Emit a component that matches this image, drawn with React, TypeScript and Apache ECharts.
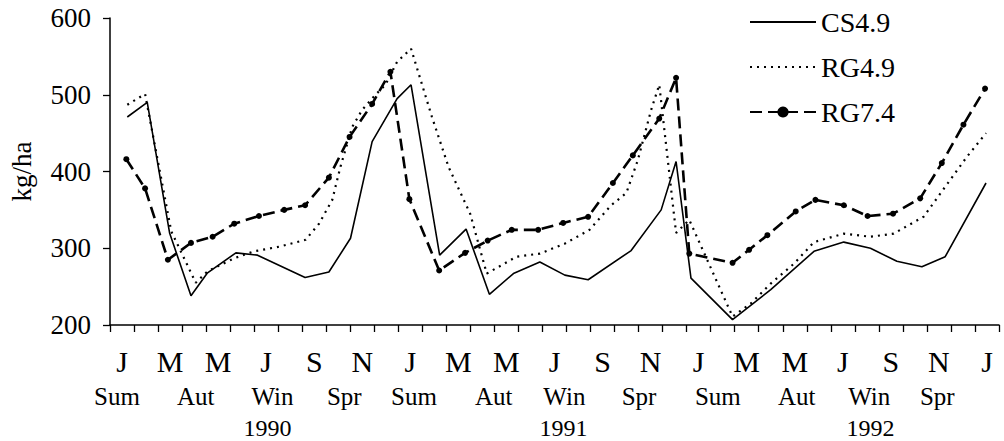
import React, { useEffect, useRef } from "react";
import * as echarts from "echarts";

// Month axis: Jan 1990 .. Jan 1993, one band per month, letters on alternate months
const monthLetters: string[] = [
  "J", "", "M", "", "M", "", "J", "", "S", "", "N", "",
  "J", "", "M", "", "M", "", "J", "", "S", "", "N", "",
  "J", "", "M", "", "M", "", "J", "", "S", "", "N", "",
  "J",
];

// Season captions and their position along the month scale (months since 1 Jan 1990)
const seasonNames: string[] = ["Sum", "Aut", "Win", "Spr", "Sum", "Aut", "Win", "Spr", "Sum", "Aut", "Win", "Spr"];
const seasonAt: number[] = [0.29, 3.57, 6.76, 9.75, 12.65, 15.97, 18.91, 22.02, 25.3, 28.58, 31.6, 34.43];

const yearNames: string[] = ["1990", "1991", "1992"];
const yearAt: number[] = [6.55, 18.87, 31.65];

const yTicks: number[] = [200, 300, 400, 500, 600];

// [months since 1 Jan 1990, kg/ha]
const cs49: [number, number][] = [
  [0.72, 471], [1.55, 490], [2.48, 320], [3.37, 238], [4.06, 268], [5.24, 294],
  [6.14, 291], [8.12, 262], [9.11, 269], [10.01, 313], [10.91, 439], [11.95, 495],
  [12.53, 513], [13.72, 291], [14.82, 325], [15.79, 240], [16.79, 267], [17.89, 282],
  [18.93, 265], [19.9, 259], [21.69, 297], [22.94, 350], [23.56, 413], [24.18, 261],
  [25.91, 207], [27.5, 246], [29.3, 296], [30.54, 308], [31.65, 300], [32.75, 283],
  [33.79, 276], [34.76, 289], [36.46, 385],
];

const rg49: [number, number][] = [
  [0.72, 487], [1.46, 501], [2.55, 322], [3.57, 255], [4.06, 270], [5.17, 287],
  [6.0, 296], [7.04, 302], [8.14, 311], [8.7, 332], [9.25, 363], [9.59, 406],
  [10.08, 458], [10.49, 480], [11.05, 500], [11.46, 513], [11.95, 543], [12.53, 560],
  [13.4, 471], [14.09, 406], [14.99, 345], [15.68, 267], [16.92, 289], [17.89, 293],
  [18.93, 306], [19.96, 324], [20.86, 356], [21.49, 372], [21.97, 415], [22.52, 480],
  [22.86, 513], [23.56, 320], [24.11, 337], [25.91, 211], [26.67, 228], [27.5, 254],
  [28.47, 280], [29.3, 308], [30.54, 319], [31.65, 315], [32.61, 319], [33.86, 341],
  [34.76, 380], [35.66, 419], [36.46, 450],
];

const rg74: [number, number][] = [
  [0.68, 416], [1.46, 378], [2.41, 285], [3.37, 307], [4.27, 315], [5.17, 332],
  [6.2, 342], [7.25, 350], [8.12, 356], [9.11, 392], [9.97, 445], [10.91, 488],
  [11.67, 530], [12.46, 364], [13.7, 271], [14.78, 294], [15.72, 310], [16.72, 324],
  [17.82, 324], [18.86, 333], [19.9, 341], [20.93, 385], [21.76, 421], [22.86, 469],
  [23.56, 522], [24.11, 293], [25.91, 281], [26.6, 298], [27.36, 317], [28.54, 348],
  [29.36, 363], [30.54, 356], [31.53, 342], [32.59, 345], [33.72, 365], [34.62, 411],
  [35.52, 461], [36.42, 508],
];

const FONT = "'Liberation Serif', 'Times New Roman', serif";
const INK = "#000";

export default function App() {
  const ref = useRef<HTMLDivElement>(null);

  useEffect(() => {
    if (!ref.current) return;
    const chart = echarts.init(ref.current, undefined, { renderer: "svg" });

    chart.setOption({
      animation: false,
      backgroundColor: "#fff",
      grid: { left: 107, right: 5, top: 18, bottom: 116, containLabel: false },
      legend: {
        data: [
          { name: "CS4.9", itemStyle: { opacity: 0 } },
          { name: "RG4.9", itemStyle: { opacity: 0 } },
          { name: "RG7.4" },
        ],
        orient: "vertical",
        left: 744,
        top: 2,
        itemWidth: 66,
        itemHeight: 14,
        itemGap: 15,
        textStyle: { fontFamily: FONT, fontSize: 28, color: INK, lineHeight: 30, padding: [0, 0, 0, 0] },
      },
      xAxis: [
        {
          type: "value",
          min: 0,
          max: 37,
          show: false,
        },
        {
          type: "category",
          data: monthLetters,
          boundaryGap: true,
          position: "bottom",
          axisLine: { show: true, lineStyle: { color: INK, width: 1.5 } },
          axisTick: { show: true, interval: 0, length: 7, lineStyle: { color: INK, width: 1.3 } },
          axisLabel: {
            interval: 0,
            margin: 21,
            fontFamily: FONT,
            fontSize: 30,
            color: INK,
          },
          splitLine: { show: false },
        },
      ],
      yAxis: {
        type: "value",
        min: yTicks[0],
        max: yTicks[yTicks.length - 1],
        interval: 100,
        name: "kg/ha",
        nameLocation: "middle",
        nameRotate: 90,
        nameGap: 75,
        nameTextStyle: { fontFamily: FONT, fontSize: 27, color: INK },
        axisLine: { show: true, lineStyle: { color: INK, width: 1.5 } },
        axisTick: { show: true, length: 7, lineStyle: { color: INK, width: 1.3 } },
        axisLabel: { margin: 19, fontFamily: FONT, fontSize: 27, color: INK },
        splitLine: { show: false },
      },
      series: [
        {
          name: "CS4.9",
          type: "line",
          xAxisIndex: 0,
          data: cs49,
          symbol: "none",
          lineStyle: { color: INK, width: 1.6, type: "solid" },
          itemStyle: { color: INK },
        },
        {
          name: "RG4.9",
          type: "line",
          xAxisIndex: 0,
          data: rg49,
          symbol: "none",
          lineStyle: { color: INK, width: 2.2, type: [2, 5] },
          itemStyle: { color: INK },
        },
        {
          name: "RG7.4",
          type: "line",
          xAxisIndex: 0,
          data: rg74,
          symbol: "circle",
          symbolSize: 6,
          showSymbol: true,
          lineStyle: { color: INK, width: 2.6, type: [12, 6] },
          itemStyle: { color: INK },
        },
      ],
    });

    // Season and year captions beneath the month letters
    const toX = (m: number) => chart.convertToPixel({ xAxisIndex: 0 }, m) as number;
    const captions: any[] = [];
    seasonNames.forEach((s, i) => {
      captions.push({
        type: "text",
        x: toX(seasonAt[i]),
        y: 396,
        style: { text: s, fontFamily: FONT, fontSize: 25, fill: INK, align: "center", verticalAlign: "middle" },
      });
    });
    yearNames.forEach((s, i) => {
      captions.push({
        type: "text",
        x: toX(yearAt[i]),
        y: 428,
        style: { text: s, fontFamily: FONT, fontSize: 24, fill: INK, align: "center", verticalAlign: "middle" },
      });
    });
    chart.setOption({ graphic: captions });

    return () => chart.dispose();
  }, []);

  return <div ref={ref} style={{ width: 1004, height: 441, position: "absolute", left: 0, top: 0 }} />;
}
